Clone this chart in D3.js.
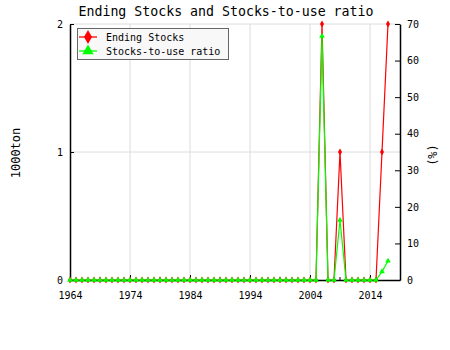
<!DOCTYPE html>
<html>
<head>
<meta charset="utf-8">
<script src="https://cdn.jsdelivr.net/npm/d3@7"></script>
<style>
  body { margin: 0; background: #fff; }
  text { font-family: "DejaVu Sans Mono", monospace; fill: #000; }
</style>
</head>
<body>
<div id="chart"></div>
<script>
const years = [
  1964, 1965, 1966, 1967, 1968, 1969, 1970, 1971, 1972, 1973,
  1974, 1975, 1976, 1977, 1978, 1979, 1980, 1981, 1982, 1983,
  1984, 1985, 1986, 1987, 1988, 1989, 1990, 1991, 1992, 1993,
  1994, 1995, 1996, 1997, 1998, 1999, 2000, 2001, 2002, 2003,
  2004, 2005, 2006, 2007, 2008, 2009, 2010, 2011, 2012, 2013,
  2014, 2015, 2016, 2017
];
// 1000 ton
const endingStocks = [
  0, 0, 0, 0, 0, 0, 0, 0, 0, 0,
  0, 0, 0, 0, 0, 0, 0, 0, 0, 0,
  0, 0, 0, 0, 0, 0, 0, 0, 0, 0,
  0, 0, 0, 0, 0, 0, 0, 0, 0, 0,
  0, 0, 2, 0, 0, 1, 0, 0, 0, 0,
  0, 0, 1, 2
];
// percent
const stocksToUse = [
  0, 0, 0, 0, 0, 0, 0, 0, 0, 0,
  0, 0, 0, 0, 0, 0, 0, 0, 0, 0,
  0, 0, 0, 0, 0, 0, 0, 0, 0, 0,
  0, 0, 0, 0, 0, 0, 0, 0, 0, 0,
  0, 0, 66.7, 0, 0, 16.4, 0, 0, 0, 0,
  0, 0, 2.3, 5.2
];
const xTicks = [1964, 1974, 1984, 1994, 2004, 2014];
const xMinorTicks = [1969, 1979, 1989, 1999, 2009];
const leftTicks = [0, 1, 2];
const rightTicks = [0, 10, 20, 30, 40, 50, 60, 70];
const seriesNames = ['Ending Stocks', 'Stocks-to-use ratio'];

const W = 450, H = 350;
const pLeft = 70, pRight = 400, pTop = 24, pBottom = 280;

const svg = d3.select('#chart').append('svg')
  .attr('width', W)
  .attr('height', H);

const x = d3.scaleLinear().domain([1964, 2019]).range([pLeft, pRight]);
const yL = d3.scaleLinear().domain([0, 2]).range([pBottom, pTop]);
const yR = d3.scaleLinear().domain([0, 70]).range([pBottom, pTop]);

// grid
svg.append('g')
  .selectAll('line')
  .data(xTicks.slice(1))
  .enter().append('line')
  .attr('x1', d => x(d)).attr('x2', d => x(d))
  .attr('y1', pTop).attr('y2', pBottom)
  .attr('stroke', '#dcdcdc');
svg.append('g')
  .selectAll('line')
  .data(leftTicks.slice(1))
  .enter().append('line')
  .attr('x1', pLeft).attr('x2', pRight)
  .attr('y1', d => yL(d)).attr('y2', d => yL(d))
  .attr('stroke', '#dcdcdc');

// axes
const axisB = svg.append('g')
  .attr('transform', 'translate(0,' + pBottom + ')')
  .call(d3.axisBottom(x).tickValues(xTicks).tickFormat(d3.format('d')).tickSizeInner(-5).tickSizeOuter(0).tickPadding(12));
axisB.append('g')
  .selectAll('line')
  .data(xMinorTicks)
  .enter().append('line')
  .attr('x1', d => x(d)).attr('x2', d => x(d))
  .attr('y1', 0).attr('y2', -3)
  .attr('stroke', '#000');

const axisL = svg.append('g')
  .attr('transform', 'translate(' + pLeft + ',0)')
  .call(d3.axisLeft(yL).tickValues(leftTicks).tickFormat(d3.format('d')).tickSizeInner(-4).tickSizeOuter(0).tickPadding(7));

const axisR = svg.append('g')
  .attr('transform', 'translate(' + pRight + ',0)')
  .call(d3.axisRight(yR).tickValues(rightTicks).tickSizeInner(-5).tickSizeOuter(0).tickPadding(7));

[axisB, axisL, axisR].forEach(a => {
  a.select('.domain').attr('stroke', '#000').attr('stroke-width', 1.5);
  a.selectAll('.tick line').attr('stroke', '#000');
  a.selectAll('text').attr('font-size', 10).attr('font-family', '"DejaVu Sans Mono", monospace');
});

// lines
const lineL = d3.line().x((d, i) => x(years[i])).y(d => yL(d));
const lineR = d3.line().x((d, i) => x(years[i])).y(d => yR(d));

svg.append('path')
  .datum(endingStocks)
  .attr('d', lineL)
  .attr('fill', 'none')
  .attr('stroke', '#ff0000')
  .attr('stroke-width', 1.2);
svg.append('g')
  .selectAll('path')
  .data(endingStocks)
  .enter().append('path')
  .attr('transform', (d, i) => 'translate(' + x(years[i]) + ',' + yL(d) + ')')
  .attr('d', d3.symbol(d3.symbolDiamond, 14))
  .attr('fill', '#ff0000');

svg.append('path')
  .datum(stocksToUse)
  .attr('d', lineR)
  .attr('fill', 'none')
  .attr('stroke', '#00ff00')
  .attr('stroke-width', 1.2);
svg.append('g')
  .selectAll('path')
  .data(stocksToUse)
  .enter().append('path')
  .attr('transform', (d, i) => 'translate(' + x(years[i]) + ',' + yR(d) + ')')
  .attr('d', d3.symbol(d3.symbolTriangle, 14))
  .attr('fill', '#00ff00');

// title & axis labels
svg.append('text')
  .attr('x', 226).attr('y', 16)
  .attr('text-anchor', 'middle')
  .attr('font-size', 14)
  .attr('textLength', 295)
  .attr('lengthAdjust', 'spacingAndGlyphs')
  .text('Ending Stocks and Stocks-to-use ratio');

svg.append('text')
  .attr('transform', 'translate(20,153) rotate(-90)')
  .attr('text-anchor', 'middle')
  .attr('font-size', 12)
  .text('1000ton');

svg.append('text')
  .attr('transform', 'translate(428,155) rotate(90)')
  .attr('text-anchor', 'middle')
  .attr('font-size', 12)
  .text('(%)');

// legend
const legend = svg.append('g');
legend.append('rect')
  .attr('x', 77.5).attr('y', 28.5)
  .attr('width', 151).attr('height', 31)
  .attr('fill', '#f8f8f8')
  .attr('stroke', '#666');
const legColors = ['#ff0000', '#00ff00'];
const legSymbols = [d3.symbolDiamond, d3.symbolTriangle];
const legItems = legend.selectAll('g.item')
  .data(seriesNames)
  .enter().append('g')
  .attr('transform', (d, i) => 'translate(0,' + (37 + i * 14) + ')');
legItems.append('line')
  .attr('x1', 79).attr('x2', 97)
  .attr('stroke', (d, i) => legColors[i])
  .attr('stroke-width', 1.3);
legItems.append('path')
  .attr('transform', 'translate(88,0)')
  .attr('d', (d, i) => d3.symbol(legSymbols[i], 55)())
  .attr('fill', (d, i) => legColors[i]);
legItems.append('text')
  .attr('x', 106).attr('y', 4)
  .attr('font-size', 10)
  .text(d => d);
</script>
</body>
</html>
